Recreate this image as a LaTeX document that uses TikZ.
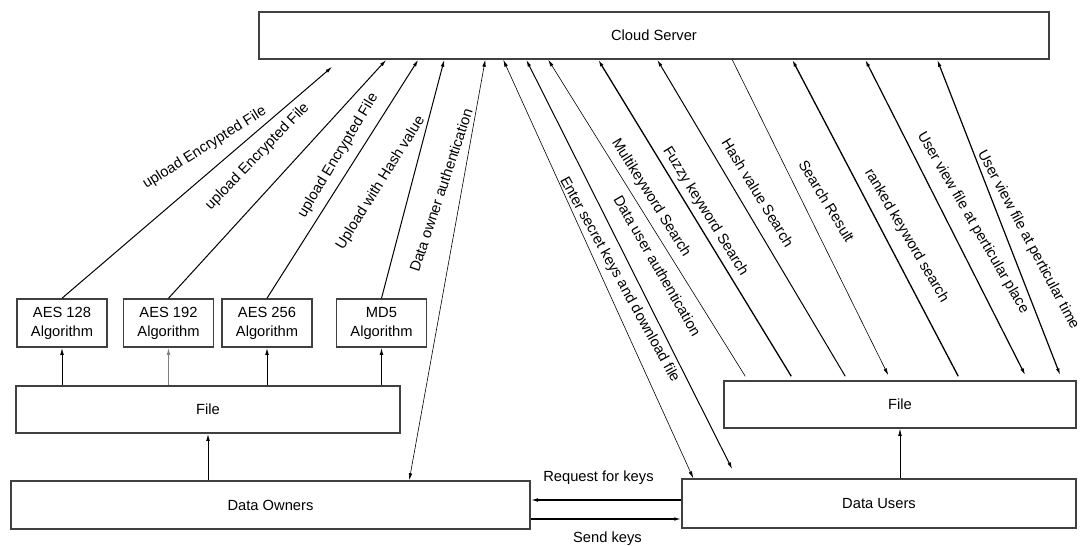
\documentclass[tikz,border=0pt]{standalone}
\usepackage{fontspec}
\setmainfont{Liberation Sans}
\usetikzlibrary{
  positioning,
  arrows.meta
}
\tikzset{
  >={Latex[length=7pt,width=3.6pt]},
  every node/.style={font=\fontsize{14.7}{19}\selectfont},
  box/.style={draw=black!75, line width=1.5pt, minimum height=47pt, inner sep=0pt},
  algo/.style={box, minimum width=90pt, minimum height=48pt, align=center},
  link/.style={line width=1pt},
  thinlink/.style={line width=0.6pt}
}

\begin{document}
\begin{tikzpicture}[x=1pt, y=-1pt]
    \useasboundingbox (0,0) rectangle (1082,546);
    \node[box, minimum width=790pt] (cloud) at (654,35.5) {Cloud Server};
    \node[algo] (aes128) at (62,323) {AES 128\\Algorithm};
    \node[algo, right=15pt of aes128] (aes192) {AES 192\\Algorithm};
    \node[algo, right=7pt of aes192] (aes256) {AES 256\\Algorithm};
    \node[algo, right=23pt of aes256] (md5) {MD5\\Algorithm};
    \node[box, minimum width=384pt] (fileo) at (208,409.5) {File};
    \node[box, minimum width=519pt, minimum height=48pt] (owners) at (270.5,505) {Data Owners};
    \node[box, minimum width=352pt] (fileu) at (900,404.5) {File};
    \node[box, minimum width=394pt, minimum height=49pt] (users) at (879,503.5) {Data Users};

    % file to the algorithms
    \draw[link, ->] (aes128.south |- fileo.north) -- (aes128);
    \draw[link, ->, black!50] (aes192.south |- fileo.north) -- (aes192);
    \draw[link, ->] (aes256.south |- fileo.north) -- (aes256);
    \draw[link, ->] (md5.south |- fileo.north) -- (md5);
    \draw[link, ->] (fileo.south |- owners.north) -- (fileo);
    \draw[thinlink, ->] (fileu.south |- users.north) -- (fileu);

    % keys
    \draw[->, line width=1.2pt] ([yshift=3.5pt]users.west) -- ([yshift=3.5pt]users.west -| owners.east)
      node[pos=0.55, above=12pt] {Request for keys};
    \draw[->, line width=1.2pt] ([yshift=-14pt]owners.east) -- ([yshift=-14pt]owners.east -| users.west)
      node[pos=0.51, below=9pt] {Send keys};

    % data owner side
    \draw[link, ->] (aes128.north) -- ([xshift=74pt, yshift=-7pt]cloud.south west)
      node[pos=0.58, xshift=-14pt, yshift=16pt, rotate=32] {upload Encrypted File};
    \draw[link, ->] (aes192.north) -- ([xshift=128pt]cloud.south west)
      node[pos=0.51, xshift=-22pt, yshift=20pt, rotate=46] {upload Encrypted File};
    \draw[link, ->] (aes256.north) -- ([xshift=160pt]cloud.south west)
      node[pos=0.56, xshift=-13.5pt, yshift=9pt, rotate=59] {upload Encrypted File};
    \draw[link, ->] (md5.north) -- ([xshift=186pt]cloud.south west)
      node[pos=0.45, xshift=-29pt, yshift=8pt, rotate=58] {Upload with Hash value};
    \draw[thinlink, <->] ([xshift=399pt]owners.north west) -- ([xshift=227pt]cloud.south west)
      node[pos=0.68, xshift=-20pt, yshift=4pt, rotate=71.5] {Data owner authentication};

    % data user side
    \draw[thinlink, <->] ([xshift=245pt]cloud.south west) -- ([xshift=12pt]users.north west)
      node[pos=0.54, xshift=13.5pt, yshift=6pt, rotate=-61] {Enter secret keys and download file};
    \draw[link, <->] ([xshift=268pt]cloud.south west) -- ([xshift=51pt, yshift=9pt]users.north west)
      node[pos=0.53, xshift=22pt, yshift=11pt, rotate=-60] {Data user authentication};
    \draw[thinlink, <-] ([xshift=290pt]cloud.south west) -- ([xshift=22pt, yshift=4pt]fileu.north west)
      node[pos=0.46, xshift=12pt, yshift=7.5pt, rotate=-58] {Multikeyword Search};
    \draw[<-, line width=1.3pt] ([xshift=340pt]cloud.south west) -- ([xshift=68pt, yshift=4pt]fileu.north west)
      node[pos=0.5, xshift=10.5pt, yshift=6.5pt, rotate=-58.3] {Fuzzy keyword Search};
    \draw[link, <-] ([xshift=399pt]cloud.south west) -- ([xshift=122pt, yshift=4pt]fileu.north west)
      node[pos=0.45, xshift=16pt, yshift=9.5pt, rotate=-58.6] {Hash value Search};
    \draw[thinlink, ->] ([xshift=474pt]cloud.south west) -- ([xshift=165pt, yshift=5pt]fileu.north west)
      node[pos=0.48, xshift=19.5pt, yshift=10pt, rotate=-58.5] {Search Result};
    \draw[<-, line width=1.3pt] ([xshift=534pt]cloud.south west) -- ([xshift=235pt, yshift=4pt]fileu.north west)
      node[pos=0.585, xshift=17pt, yshift=9pt, rotate=-59.6] {ranked keyword search};
    \draw[<->, line width=1.2pt] ([xshift=607pt]cloud.south west) -- ([xshift=302pt, yshift=5pt]fileu.north west)
      node[pos=0.55, xshift=19.5pt, yshift=10.5pt, rotate=-59.8] {User view file at perticular place};
    \draw[<->, line width=1.2pt] ([xshift=679pt]cloud.south west) -- ([xshift=337pt, yshift=5pt]fileu.north west)
      node[pos=0.6, xshift=17pt, yshift=9pt, rotate=-62] {User view file at perticular time};
\end{tikzpicture}
\end{document}
